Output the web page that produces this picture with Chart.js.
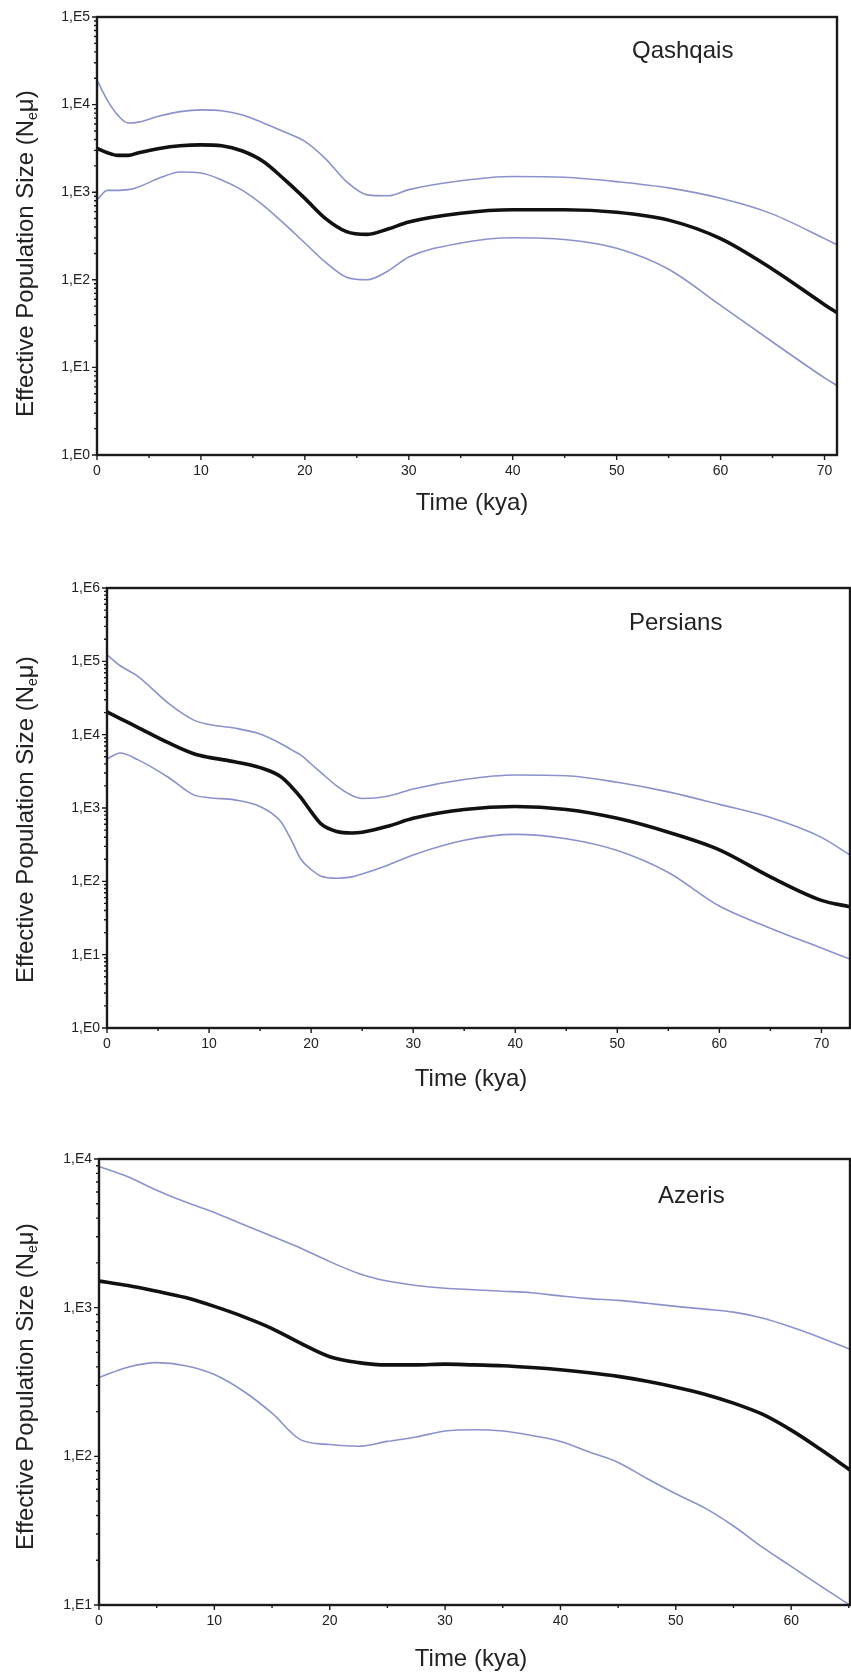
<!DOCTYPE html>
<html><head><meta charset="utf-8">
<script src="https://cdn.jsdelivr.net/npm/chart.js@4.4.1/dist/chart.umd.min.js"></script>
<style>
html,body{margin:0;padding:0;background:#fff;}
body{width:851px;height:1673px;position:relative;overflow:hidden;}
canvas{position:absolute;left:0;}
</style></head><body>
<canvas id="c1" width="851" height="560" style="top:0px;width:851px;height:560px"></canvas>
<canvas id="c2" width="851" height="560" style="top:560px;width:851px;height:560px"></canvas>
<canvas id="c3" width="851" height="553" style="top:1120px;width:851px;height:553px"></canvas>
<script>
// ---------- DATA ----------
// Qashqais
const qTime   = [0,1,2,3,4,6,8,10,12,14,16,18,20,22,24,26,28,30,35,40,45,50,55,60,65,70,71.2];
const qMedian = [3160,2820,2630,2630,2820,3160,3390,3470,3390,2950,2240,1410,850,500,355,330,380,457,575,630,630,590,480,295,132,52,42];
const qUpper  = [19000,11200,7590,6170,6310,7410,8320,8710,8510,7590,6170,4900,3800,2400,1320,933,912,1070,1350,1510,1480,1320,1120,851,562,295,251];
const qLower  = [813,1050,1050,1070,1150,1450,1700,1660,1380,1050,708,437,263,158,107,100,126,182,263,302,288,229,132,51,19.5,7.6,6.2];
const qYTicks = [1,10,100,1000,10000,100000];
const qYTickLabels = ['1,E0','1,E1','1,E2','1,E3','1,E4','1,E5'];
const qXMax = 71.2;

// Persians
const pTime   = [0,1.3,3,6,8.5,10,12.5,15,17,18,19,20,21,22.5,24,25,27.5,30,35,40,45,50,55,60,65,70,72.8];
const pMedian = [20400,16600,12600,7760,5500,4900,4270,3550,2690,2000,1380,891,603,479,457,468,562,724,955,1050,955,724,468,269,115,55,45];
const pUpper  = [123000,87000,63000,26900,15800,13800,12300,10200,7590,6310,5250,3980,3020,2000,1480,1350,1450,1820,2450,2820,2750,2240,1660,1120,741,398,229];
const pLower  = [4680,5620,4570,2630,1510,1380,1290,1050,661,380,200,145,117,110,115,126,166,229,363,437,380,263,132,46,23,12.3,8.7];
const pYTicks = [1,10,100,1000,10000,100000,1000000];
const pYTickLabels = ['1,E0','1,E1','1,E2','1,E3','1,E4','1,E5','1,E6'];
const pXMax = 72.8;

// Azeris
const aTime   = [0,2.5,5,7.5,10,12.5,15,17.5,20,22.5,25,27.5,30,32.5,35,37.5,40,42.5,45,47.5,50,52.5,55,57.5,60,62.5,65.1];
const aMedian = [1510,1410,1290,1170,1020,871,724,575,468,427,412,412,417,412,407,396,382,365,345,320,292,262,228,192,150,112,81];
const aUpper  = [8910,7590,6170,5130,4370,3630,3020,2510,2040,1700,1510,1410,1350,1320,1290,1260,1200,1150,1120,1070,1020,977,933,851,741,631,525];
const aLower  = [339,398,427,407,355,275,195,129,120,117,126,135,148,151,148,138,126,107,91,71,56,45,34,24.5,18.2,13.5,10];
const aYTicks = [10,100,1000,10000];
const aYTickLabels = ['1,E1','1,E2','1,E3','1,E4'];
const aXMax = 65.1;

const xTitleText = 'Time (kya)';
const yTitleParts = ['Effective Population Size (N', 'e', 'μ)'];

// ---------- STYLE ----------
const FONT = "'Liberation Sans', Arial, Helvetica, sans-serif";
const TXT = '#222';
const BLUE = '#8a92cc';
const DARK = '#111';

const framePlugin = {
  id: 'frame',
  afterDraw(chart, args, o) {
    const {ctx, chartArea: a} = chart;
    const x = chart.scales.x, y = chart.scales.y;
    ctx.save();
    ctx.strokeStyle = '#1a1a1a';
    ctx.lineWidth = 1.4;
    ctx.beginPath();
    const lo = Math.floor(Math.log10(y.min)), hi = Math.ceil(Math.log10(y.max));
    for (let k = lo; k <= hi; k++) {
      for (let m = 1; m < 10; m++) {
        const v = m * Math.pow(10, k);
        if (v < y.min * 0.999 || v > y.max * 1.001) continue;
        const py = y.getPixelForValue(v);
        const len = m === 1 ? 5 : 3;
        ctx.moveTo(a.left - len, py); ctx.lineTo(a.left + 1, py);
      }
    }
    for (let t = 0; t <= x.max + 1e-6; t += 5) {
      const px = x.getPixelForValue(t);
      const len = (t % 10 === 0) ? 5 : 3;
      ctx.moveTo(px, a.bottom); ctx.lineTo(px, a.bottom + len);
    }
    ctx.stroke();
    ctx.lineWidth = 2.4;
    ctx.strokeRect(a.left, a.top, a.right - a.left, a.bottom - a.top);

    ctx.fillStyle = TXT;
    ctx.font = '24px ' + FONT;
    ctx.textBaseline = 'alphabetic';
    ctx.textAlign = 'left';
    ctx.fillText(o.name, o.nameX, o.nameY);
    ctx.textAlign = 'center';
    ctx.fillText(xTitleText, o.xTitleX, o.xTitleY);

    ctx.translate(o.yTitleX, o.yTitleY);
    ctx.rotate(-Math.PI / 2);
    ctx.textAlign = 'left';
    let cx = 0;
    ctx.font = '24px ' + FONT;
    ctx.fillText(yTitleParts[0], cx, 0); cx += ctx.measureText(yTitleParts[0]).width;
    ctx.font = '14px ' + FONT;
    ctx.fillText(yTitleParts[1], cx, 4); cx += ctx.measureText(yTitleParts[1]).width;
    ctx.font = '24px ' + FONT;
    ctx.fillText(yTitleParts[2], cx, 0);
    ctx.restore();
  }
};

function ds(label, t, v, color, w) {
  return {label, data: t.map((tt, i) => ({x: tt, y: v[i]})), borderColor: color, borderWidth: w,
    pointRadius: 0, fill: false, cubicInterpolationMode: 'monotone'};
}

function makeChart(id, p) {
  return new Chart(document.getElementById(id), {
    type: 'line',
    data: { datasets: [
      ds('upper', p.t, p.upper, BLUE, 1.6),
      ds('lower', p.t, p.lower, BLUE, 1.6),
      ds('median', p.t, p.median, DARK, 3.6)
    ]},
    options: {
      responsive: false, animation: false, events: [],
      layout: {padding: {top: p.padTop, right: p.padRight, bottom: 0, left: 0}},
      plugins: {legend: {display: false}, tooltip: {enabled: false}, frame: p.frame},
      scales: {
        x: {type: 'linear', min: 0, max: p.xMax,
          grid: {display: false, drawTicks: false}, border: {display: false},
          ticks: {stepSize: 10, includeBounds: false, padding: 8, color: TXT, font: {family: FONT, size: 14}, maxRotation: 0},
          afterFit(s) { s.height = p.xH; }
        },
        y: {type: 'logarithmic', min: p.yTicks[0], max: p.yTicks[p.yTicks.length - 1],
          grid: {display: false, drawTicks: false}, border: {display: false},
          afterBuildTicks(s) { s.ticks = p.yTicks.map(v => ({value: v, major: true})); },
          ticks: {padding: 7, color: TXT, font: {family: FONT, size: 14}, autoSkip: false,
            callback: (v, i) => p.yLabels[i]},
          afterFit(s) { s.width = p.yW; }
        }
      }
    },
    plugins: [framePlugin]
  });
}

makeChart('c1', {t: qTime, median: qMedian, upper: qUpper, lower: qLower, yTicks: qYTicks, yLabels: qYTickLabels,
  xMax: qXMax, padTop: 17, padRight: 14, yW: 97, xH: 105,
  frame: {name: 'Qashqais', nameX: 632, nameY: 58, xTitleX: 472, xTitleY: 510, yTitleX: 33, yTitleY: 417}});
makeChart('c2', {t: pTime, median: pMedian, upper: pUpper, lower: pLower, yTicks: pYTicks, yLabels: pYTickLabels,
  xMax: pXMax, padTop: 28, padRight: 1, yW: 107, xH: 92,
  frame: {name: 'Persians', nameX: 629, nameY: 70, xTitleX: 471, xTitleY: 526, yTitleX: 33, yTitleY: 423}});
makeChart('c3', {t: aTime, median: aMedian, upper: aUpper, lower: aLower, yTicks: aYTicks, yLabels: aYTickLabels,
  xMax: aXMax, padTop: 39, padRight: 1, yW: 99, xH: 68,
  frame: {name: 'Azeris', nameX: 658, nameY: 83, xTitleX: 471, xTitleY: 546, yTitleX: 33, yTitleY: 430}});
</script>
</body></html>
